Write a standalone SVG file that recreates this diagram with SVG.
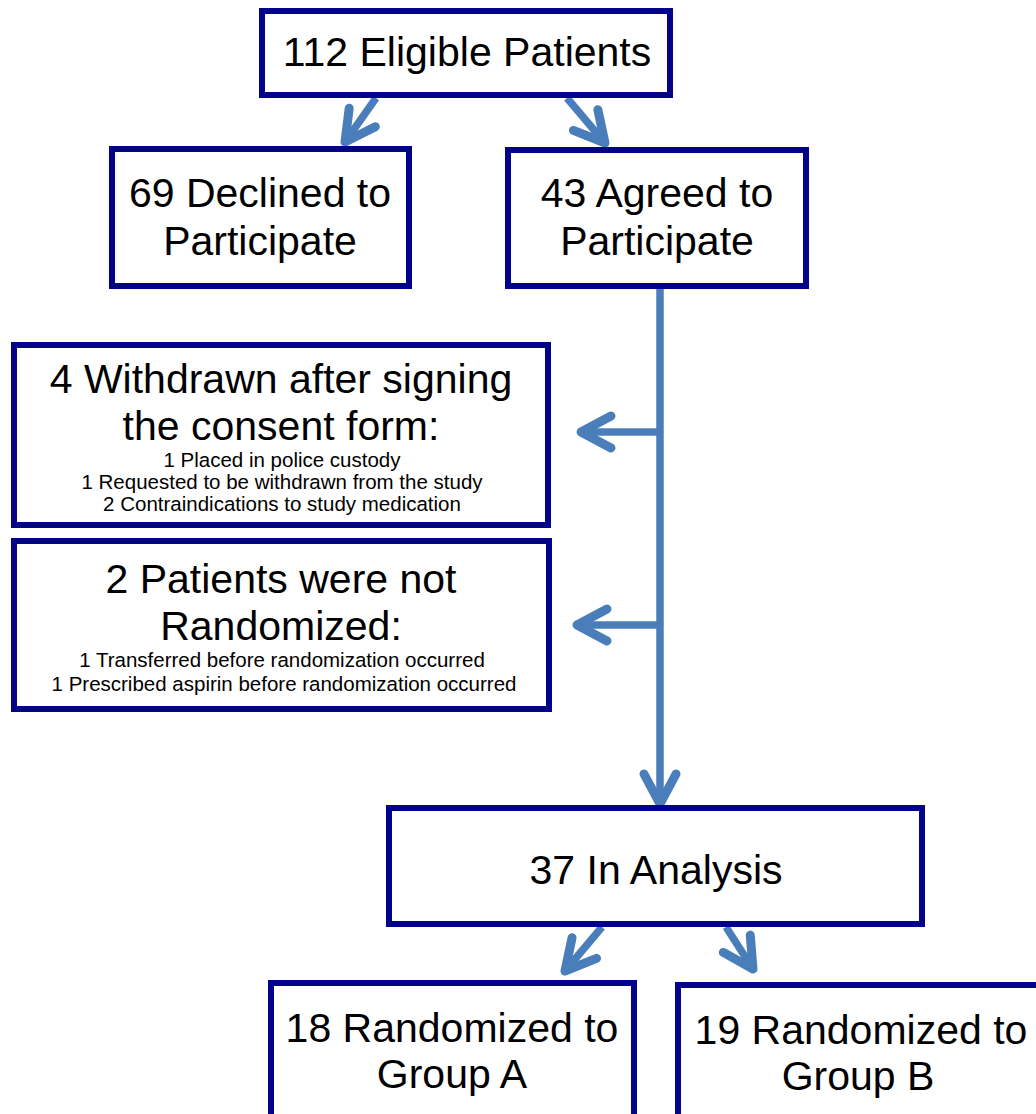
<svg xmlns="http://www.w3.org/2000/svg" width="1036" height="1114" viewBox="0 0 1036 1114">
<style>
.box{fill:#ffffff;stroke:#02028a;stroke-width:6}
.big{font-family:"Liberation Sans",Arial,sans-serif;font-size:41px;fill:#000;text-anchor:middle}
.small{font-family:"Liberation Sans",Arial,sans-serif;font-size:20.5px;fill:#000;text-anchor:middle}
.conn{stroke:#4a7ebb;stroke-width:7.5;fill:none;marker-end:url(#chev)}
</style>
<defs>
<marker id="chev" markerUnits="userSpaceOnUse" orient="auto" refX="0" refY="0" markerWidth="40" markerHeight="40" overflow="visible">
<path d="M -30 -16 L 0 0 L -30 16" fill="none" stroke="#4a7ebb" stroke-width="9" stroke-linecap="round" stroke-linejoin="round"/>
</marker>
</defs>
<rect width="1036" height="1114" fill="#ffffff"/>
<g id="connectors">
<line class="conn" x1="376" y1="98" x2="345" y2="142"/>
<line class="conn" x1="567" y1="98" x2="605" y2="143"/>
<line class="conn" x1="660" y1="288" x2="660" y2="804"/>
<line class="conn" x1="660" y1="432" x2="581" y2="432"/>
<line class="conn" x1="660" y1="625" x2="577" y2="625"/>
<line class="conn" x1="602" y1="927" x2="565" y2="971"/>
<line class="conn" x1="726" y1="927" x2="753" y2="969"/>
</g>
<g id="eligible">
<rect class="box" x="262" y="11" width="408" height="84"/>
<text class="big" x="467" y="66">112 Eligible Patients</text>
</g>
<g id="declined">
<rect class="box" x="112" y="149" width="297" height="137"/>
<text class="big" x="260" y="207">69 Declined to</text>
<text class="big" x="260" y="255">Participate</text>
</g>
<g id="agreed">
<rect class="box" x="508" y="150" width="298" height="136"/>
<text class="big" x="657" y="207">43 Agreed to</text>
<text class="big" x="657" y="255">Participate</text>
</g>
<g id="withdrawn">
<rect class="box" x="14" y="345" width="534" height="180"/>
<text class="big" x="281" y="393">4 Withdrawn after signing</text>
<text class="big" x="281" y="440">the consent form:</text>
<text class="small" x="282" y="467">1 Placed in police custody</text>
<text class="small" x="282" y="489">1 Requested to be withdrawn from the study</text>
<text class="small" x="282" y="511">2 Contraindications to study medication</text>
</g>
<g id="not-randomized">
<rect class="box" x="14" y="541" width="535" height="168"/>
<text class="big" x="281" y="593">2 Patients were not</text>
<text class="big" x="281" y="640">Randomized:</text>
<text class="small" x="282" y="667">1 Transferred before randomization occurred</text>
<text class="small" x="284" y="691">1 Prescribed aspirin before randomization occurred</text>
</g>
<g id="analysis">
<rect class="box" x="389" y="808" width="533" height="116"/>
<text class="big" x="656" y="884">37 In Analysis</text>
</g>
<g id="group-a">
<rect class="box" x="271" y="983" width="363" height="140"/>
<text class="big" x="452" y="1042">18 Randomized to</text>
<text class="big" x="452" y="1088">Group A</text>
</g>
<g id="group-b">
<rect class="box" x="678" y="985" width="370" height="140"/>
<text class="big" x="861" y="1044">19 Randomized to</text>
<text class="big" x="858" y="1090">Group B</text>
</g>
</svg>
